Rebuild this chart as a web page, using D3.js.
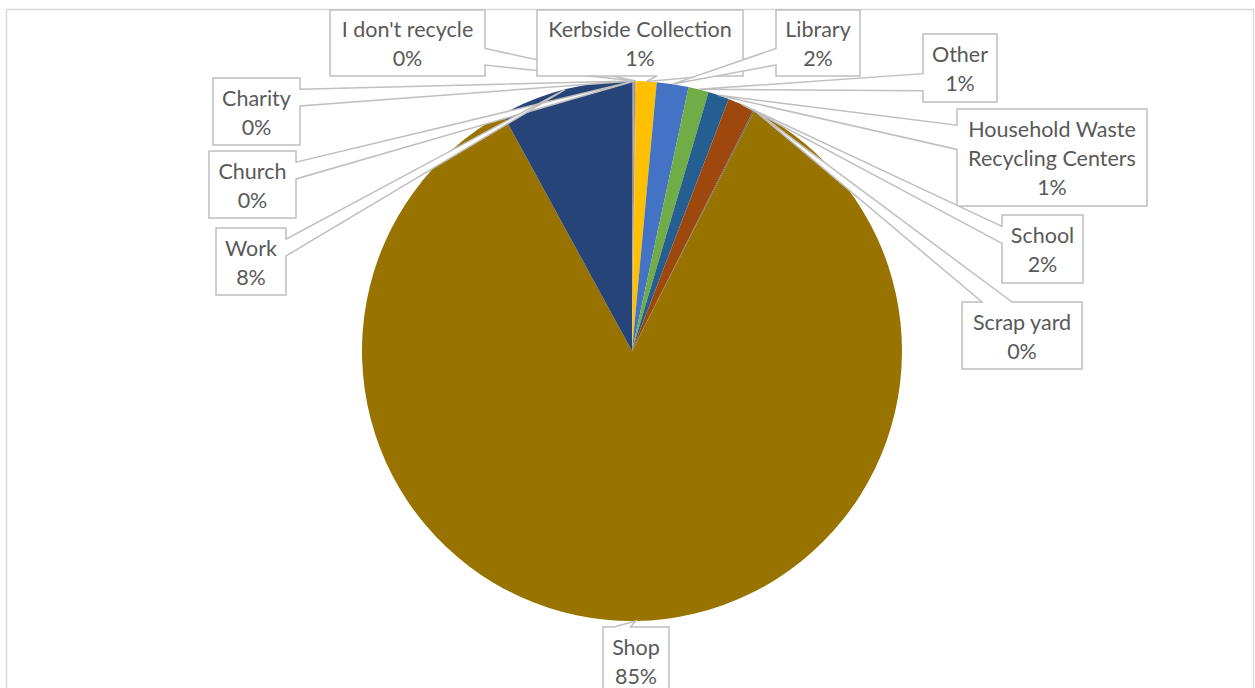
<!DOCTYPE html>
<html>
<head>
<meta charset="utf-8">
<script src="https://cdn.jsdelivr.net/npm/d3@7"></script>
<style>
  body { margin: 0; background: #fff; }
  svg { display: block; }
</style>
</head>
<body>
<div id="chart"></div>
<script>
// where people recycle - shares (percent)
const categories = ["Charity", "Church", "I don't recycle", "Kerbside Collection", "Library", "Other",
    "Household Waste Recycling Centers", "School", "Scrap yard", "Shop", "Work"];
const shares = [0.1, 0.1, 0.05, 1.21, 1.9, 1.22, 1.25, 1.6, 0.08, 84.55, 7.95];
const sliceColors = ["#5B9BD5", "#ED7D31", "#A5A5A5", "#FFC000", "#4472C4", "#70AD47",
    "#255E91", "#9E480E", "#636363", "#997300", "#264478"];
// how the long label wraps
const labelLines = {
    "Household Waste Recycling Centers": ["Household Waste", "Recycling Centers"]
};

// callout boxes [x, y, w, h], same order as categories
const boxes = [
    [213, 78, 87, 67],
    [209, 151, 87, 67],
    [330, 10, 155, 66],
    [537, 10, 206, 66],
    [776, 10, 84, 66],
    [923, 34, 74, 68],
    [957, 109, 190, 97],
    [1002, 215, 81, 68],
    [962, 302, 120, 67],
    [603, 627, 66, 67],
    [216, 228, 70, 67]
];

const width = 1255, height = 688;
const cx = 632, cy = 351, radius = 270;

const svg = d3.select("#chart").append("svg")
    .attr("width", width)
    .attr("height", height);

// chart area border
svg.append("rect")
    .attr("x", 6.5).attr("y", 9.5)
    .attr("width", 1247).attr("height", 700)
    .attr("fill", "none")
    .attr("stroke", "#D9D9D9")
    .attr("stroke-width", 1.5);

const data = categories.map((c, i) => ({ name: c, value: shares[i], color: sliceColors[i], box: boxes[i] }));
const total = d3.sum(shares);

const pie = d3.pie().value(d => d.value).sort(null);
const arcs = pie(data);
const arc = d3.arc().innerRadius(0).outerRadius(radius);

const g = svg.append("g").attr("transform", `translate(${cx},${cy})`);
g.selectAll("path.slice")
    .data(arcs)
    .join("path")
    .attr("class", "slice")
    .attr("d", arc)
    .attr("fill", d => d.data.color);

// excel style wedge callout: rectangle with a tail pointing at the slice
function calloutPath(bx, by, w, h, tx, ty) {
    const dxPos = tx - (bx + w / 2), dyPos = ty - (by + h / 2);
    const x1 = bx + w * (dxPos > 0 ? 7 : 2) / 12, x2 = bx + w * (dxPos > 0 ? 10 : 5) / 12;
    const y1 = by + h * (dyPos > 0 ? 7 : 2) / 12, y2 = by + h * (dyPos > 0 ? 10 : 5) / 12;
    const horiz = Math.abs(dxPos * h) > Math.abs(dyPos * w);
    const p = d3.path();
    p.moveTo(bx, by);
    if (!horiz && dyPos < 0) { p.lineTo(x1, by); p.lineTo(tx, ty); p.lineTo(x2, by); }
    p.lineTo(bx + w, by);
    if (horiz && dxPos > 0) { p.lineTo(bx + w, y1); p.lineTo(tx, ty); p.lineTo(bx + w, y2); }
    p.lineTo(bx + w, by + h);
    if (!horiz && dyPos > 0) { p.lineTo(x2, by + h); p.lineTo(tx, ty); p.lineTo(x1, by + h); }
    p.lineTo(bx, by + h);
    if (horiz && dxPos < 0) { p.lineTo(bx, y2); p.lineTo(tx, ty); p.lineTo(bx, y1); }
    p.closePath();
    return p.toString();
}

const pct = d3.format(".0%");
const lineH = 29;

const labels = svg.append("g").selectAll("g.label")
    .data(arcs)
    .join("g")
    .attr("class", "label");

labels.append("path")
    .attr("d", d => {
        const a = (d.startAngle + d.endAngle) / 2;
        const tx = cx + radius * Math.sin(a), ty = cy - radius * Math.cos(a);
        const [bx, by, w, h] = d.data.box;
        return calloutPath(bx, by, w, h, tx, ty);
    })
    .attr("fill", "#fff")
    .attr("stroke", "#BFBFBF")
    .attr("stroke-width", 1.5)
    .attr("stroke-linejoin", "miter");

labels.each(function(d) {
    const [bx, by, w, h] = d.data.box;
    const lines = (labelLines[d.data.name] || [d.data.name]).concat([pct(d.data.value / total)]);
    const pad = (h - lines.length * lineH) / 2;
    d3.select(this).selectAll("text")
        .data(lines)
        .join("text")
        .attr("x", bx + w / 2)
        .attr("y", (t, i) => by + pad + 23 + i * lineH)
        .attr("text-anchor", "middle")
        .attr("font-family", "Lato, 'Open Sans', sans-serif")
        .attr("font-size", 21.5)
        .attr("fill", "#595959")
        .text(t => t);
});
</script>
</body>
</html>
